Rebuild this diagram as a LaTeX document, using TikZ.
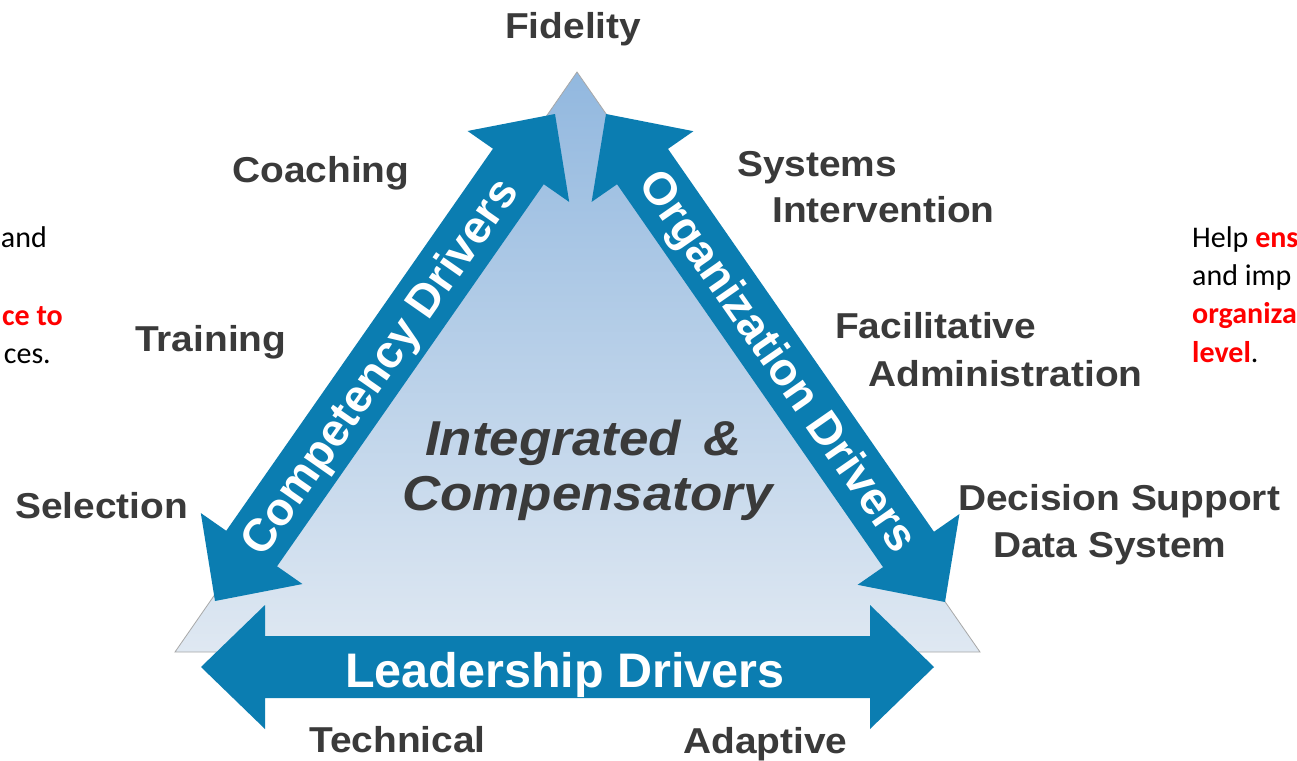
\documentclass[tikz,border=0pt]{standalone}
\usepackage{fontspec}
\setmainfont{Liberation Sans}
\newfontfamily\labfont[FakeStretch=1.08]{Liberation Sans}
\newfontfamily\calfont{Carlito}
\usetikzlibrary{calc}
\definecolor{arrowblue}{HTML}{0B7DB1}
\definecolor{labgray}{HTML}{3A3A3A}
\definecolor{tritop}{HTML}{92B8DF}
\definecolor{tribot}{HTML}{DFE8F2}
\definecolor{edgegray}{HTML}{A8A8A8}
\definecolor{slidered}{HTML}{FF0000}
\newcommand\drvarrow[2]{%
 \fill[arrowblue] (#1) -- ($(#1)!89.1pt!44.09:(#2)$) -- ($(#1)!71.11pt!25.84:(#2)$)
   -- ($(#2)!71.11pt!-25.84:(#1)$) -- ($(#2)!89.1pt!-44.09:(#1)$) -- (#2)
   -- ($(#2)!89.1pt!44.09:(#1)$) -- ($(#2)!71.11pt!25.84:(#1)$)
   -- ($(#1)!71.11pt!-25.84:(#2)$) -- ($(#1)!89.1pt!-44.09:(#2)$) -- cycle;}
\begin{document}
\begin{tikzpicture}[x=1pt,y=-1pt,
  lab/.style={font=\labfont\bfseries\fontsize{36}{40}\selectfont, text=labgray, inner sep=0pt, anchor=base west},
  ctr/.style={font=\labfont\bfseries\itshape\fontsize{49}{54}\selectfont, text=labgray, inner sep=0pt, anchor=base west},
  wtxt/.style={font=\bfseries\fontsize{46}{50}\selectfont, text=white, inner sep=0pt},
  slide/.style={font=\calfont\fontsize{30}{36}\selectfont, text=black, inner sep=0pt},
  hl/.style={text=slidered, font=\calfont\bfseries\fontsize{30}{36}\selectfont}]
\useasboundingbox (0,0) rectangle (1297,760);
\fill[white] (0,0) rectangle (1297,760);
\clip (0,0) rectangle (1297,760);
% triangle
\coordinate (apex) at (577,72);
\coordinate (bl) at (175,652);
\coordinate (br) at (980,652);
\shadedraw[top color=tritop, bottom color=tribot, draw=edgegray, line width=0.8pt] (apex) -- (bl) -- (br) -- cycle;
% arrows
\coordinate (cA) at (215,601);
\coordinate (cB) at (555,114);
\coordinate (oA) at (606,114);
\coordinate (oB) at (945,602);
\coordinate (lA) at (201,667);
\coordinate (lB) at (934,667);
\drvarrow{cA}{cB}
\drvarrow{oA}{oB}
\drvarrow{lA}{lB}
% arrow texts
\node[wtxt, rotate=55.1] (comp) at (382,368) {Competency Drivers};
\node[wtxt, rotate=-55.2] (org) at (776,363) {Organization Drivers};
\node[wtxt, font=\bfseries\fontsize{48.5}{52}\selectfont, anchor=base] (lead) at (565,687) {Leadership Drivers};
% centre
\node[ctr] (integ) at (425,455) {Integrated\hspace{0.45em}\&};
\node[ctr] (comps) at (402,510) {Compensatory};
% labels
\node[lab] (fid) at (505,39) {Fidelity};
\node[lab] (coach) at (232,182) {Coaching};
\node[lab] (train) at (135,351) {Training};
\node[lab] (sel) at (15,518) {Selection};
\node[lab] (sys1) at (737,176) {Systems};
\node[lab] (sys2) at (772,222) {Intervention};
\node[lab] (fac1) at (835,338) {Facilitative};
\node[lab] (fac2) at (868,386) {Administration};
\node[lab] (dec1) at (958,510) {Decision Support};
\node[lab] (dec2) at (993,557) {Data System};
\node[lab] (tech) at (309,752) {Technical};
\node[lab] (adap) at (683,753) {Adaptive};
% slide fragments left
\node[slide, anchor=base east] (l1) at (47,247) {and};
\node[slide, hl, anchor=base east] (l2) at (63,325) {ce to};
\node[slide, anchor=base east] (l3) at (51,363) {ces.};
% slide fragments right
\node[slide, anchor=base west] (r1) at (1192,247) {Help {\bfseries\color{slidered}ens}};
\node[slide, anchor=base west] (r2) at (1192,285) {and imp};
\node[slide, hl, anchor=base west] (r3) at (1192,323) {organiza};
\node[slide, anchor=base west] (r4) at (1192,362) {{\bfseries\color{slidered}level}.};
\end{tikzpicture}
\end{document}
